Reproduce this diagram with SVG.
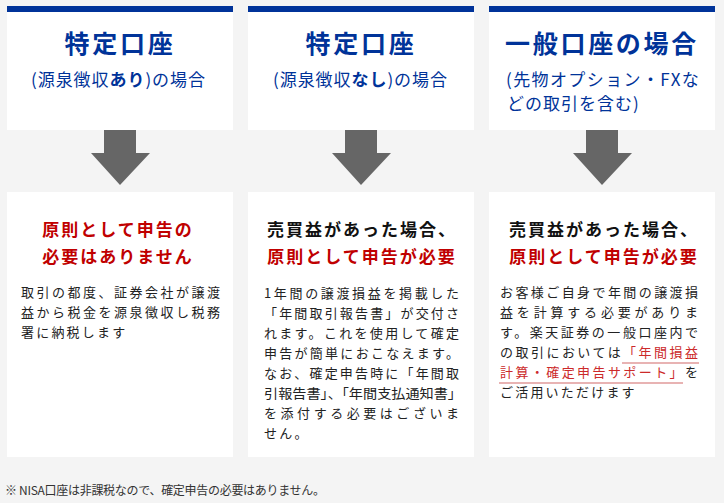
<svg xmlns="http://www.w3.org/2000/svg" width="724" height="503" viewBox="0 0 724 503">
<style>
.bg{fill:#f4f4f4}
.box{fill:#ffffff}
.bar{fill:#003399}
.jp{font-family:"Noto Sans CJK JP","Noto Sans",sans-serif}
.h1{font-size:25px;font-weight:bold;fill:#003399;letter-spacing:2.7px}
.h2{font-size:17px;fill:#003399}
.rt{font-size:17px;font-weight:bold;fill:#c00000;letter-spacing:2px}
.bt{font-size:17px;font-weight:bold;fill:#111111;letter-spacing:2px}
.body{font-size:13px;fill:#222222}
.ls{letter-spacing:2.2px}
.link{fill:#cc2a2a}
.ul{stroke:#e09a9a;stroke-width:1.6}
.arrow{fill:#666666}
.note{font-size:12px;fill:#333333}
</style>
<rect class="bg" x="0" y="0" width="724" height="503"/>

<g id="head1">
<rect class="box" x="7" y="6" width="226" height="124"/>
<rect class="bar" x="7" y="6" width="226" height="6"/>
<text class="jp h1" x="120" y="53" text-anchor="middle">特定口座</text>
<text class="jp h2" x="118" y="86" text-anchor="middle" textLength="174" lengthAdjust="spacing">(源泉徴収<tspan font-weight="bold">あり</tspan>)の場合</text>
</g>

<g id="head2">
<rect class="box" x="248" y="6" width="226" height="124"/>
<rect class="bar" x="248" y="6" width="226" height="6"/>
<text class="jp h1" x="361" y="53" text-anchor="middle">特定口座</text>
<text class="jp h2" x="360" y="86" text-anchor="middle" textLength="174" lengthAdjust="spacing">(源泉徴収<tspan font-weight="bold">なし</tspan>)の場合</text>
</g>

<g id="head3">
<rect class="box" x="489" y="6" width="226" height="124"/>
<rect class="bar" x="489" y="6" width="226" height="6"/>
<text class="jp h1" x="602" y="53" text-anchor="middle">一般口座の場合</text>
<text class="jp h2" font-size="16" x="506" y="86" letter-spacing="1.4">(先物オプション・FXな</text>
<text class="jp h2" font-size="16" x="507" y="110" letter-spacing="1">どの取引を含む)</text>
</g>

<g id="connectors">
<polygon class="arrow" points="104,130 136,130 136,153 150,153 120,185 91,153 104,153"/>
<polygon class="arrow" points="345,130 377,130 377,153 391,153 361,185 332,153 345,153"/>
<polygon class="arrow" points="586,130 618,130 618,153 632,153 602,185 573,153 586,153"/>
</g>

<g id="box1">
<rect class="box" x="7" y="192" width="226" height="265"/>
<text class="jp rt" x="118" y="236" text-anchor="middle">原則として申告の</text>
<text class="jp rt" x="118" y="263" text-anchor="middle">必要はありません</text>
<text class="jp body" x="21" y="297" textLength="199" lengthAdjust="spacing">取引の都度、証券会社が譲渡</text>
<text class="jp body" x="21" y="317" textLength="199" lengthAdjust="spacing">益から税金を源泉徴収し税務</text>
<text class="jp body ls" x="21" y="337">署に納税します</text>
</g>

<g id="box2">
<rect class="box" x="248" y="192" width="226" height="265"/>
<text class="jp bt" x="362" y="236" text-anchor="middle">売買益があった場合、</text>
<text class="jp rt" x="362" y="263" text-anchor="middle">原則として申告が必要</text>
<text class="jp body" x="264" y="298" textLength="195" lengthAdjust="spacing">1年間の譲渡損益を掲載した</text>
<text class="jp body" x="264" y="318" textLength="195" lengthAdjust="spacing">「年間取引報告書」が交付さ</text>
<text class="jp body" x="264" y="338" textLength="195" lengthAdjust="spacing">れます。これを使用して確定</text>
<text class="jp body" x="264" y="358" textLength="195" lengthAdjust="spacing">申告が簡単におこなえます。</text>
<text class="jp body" x="264" y="378" textLength="195" lengthAdjust="spacing">なお、確定申告時に「年間取</text>
<text class="jp body" x="264" y="398" textLength="198" lengthAdjust="spacingAndGlyphs">引報告書」、「年間支払通知書」</text>
<text class="jp body" x="264" y="418" textLength="195" lengthAdjust="spacing">を添付する必要はございま</text>
<text class="jp body ls" x="264" y="438">せん。</text>
</g>

<g id="box3">
<rect class="box" x="489" y="192" width="226" height="265"/>
<text class="jp bt" x="604" y="236" text-anchor="middle">売買益があった場合、</text>
<text class="jp rt" x="604" y="263" text-anchor="middle">原則として申告が必要</text>
<text class="jp body" x="500" y="297" textLength="198" lengthAdjust="spacing">お客様ご自身で年間の譲渡損</text>
<text class="jp body" x="500" y="317" textLength="198" lengthAdjust="spacing">益を計算する必要がありま</text>
<text class="jp body" x="500" y="337" textLength="198" lengthAdjust="spacing">す。楽天証券の一般口座内で</text>
<text class="jp body" x="500" y="357" textLength="198" lengthAdjust="spacing">の取引においては<tspan class="link">「年間損益</tspan></text>
<text class="jp body" x="500" y="377" textLength="198" lengthAdjust="spacing"><tspan class="link">計算・確定申告サポート」</tspan>を</text>
<text class="jp body ls" x="500" y="397">ご活用いただけます</text>
<line class="ul" x1="622" y1="363" x2="699" y2="363"/>
<line class="ul" x1="499" y1="383" x2="683" y2="383"/>
</g>

<g id="footnote">
<text class="jp note" x="5" y="495" textLength="320" lengthAdjust="spacing">※ NISA口座は非課税なので、確定申告の必要はありません。</text>
</g>
</svg>
